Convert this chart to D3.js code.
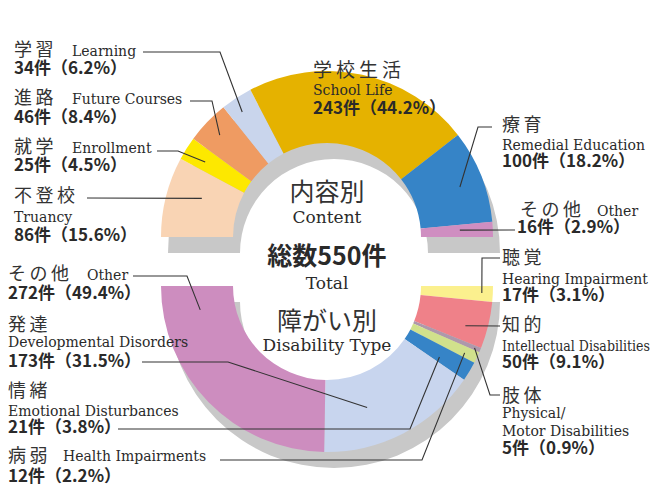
<!DOCTYPE html>
<html lang="ja">
  <head>
    <meta charset="utf-8">
    <title>相談内容・障がい別</title>
    <script src="https://d3js.org/d3.v7.min.js"></script>
    <style>
      body { margin: 0; background: #fff; }
      .jp { font-family: "Noto Sans CJK JP", sans-serif; font-weight: 400; fill: #333; }
      .en { font-family: "DejaVu Serif", serif; fill: #2a2a2a; }
      .num { font-family: "Noto Sans CJK JP", sans-serif; font-weight: 700; fill: #2a2a2a; }
    </style>
  </head>
  <body>
    <script>

      // 内容別 (top half, left to right)
      var contentNames   = ["不登校", "就学", "進路", "学習", "学校生活", "療育", "その他"];
      var contentEnglish = ["Truancy", "Enrollment", "Future Courses", "Learning", "School Life", "Remedial Education", "Other"];
      var contentCounts  = [86, 25, 46, 34, 243, 100, 16];
      var contentPct     = ["15.6", "4.5", "8.4", "6.2", "44.2", "18.2", "2.9"];

      // 障がい別 (bottom half, right to left)
      var disabilityNames   = ["聴覚", "知的", "肢体", "病弱", "情緒", "発達", "その他"];
      var disabilityEnglish = ["Hearing Impairment", "Intellectual Disabilities", "Physical/\nMotor Disabilities",
                               "Health Impairments", "Emotional Disturbances", "Developmental Disorders", "Other"];
      var disabilityCounts  = [17, 50, 5, 12, 21, 173, 272];
      var disabilityPct     = ["3.1", "9.1", "0.9", "2.2", "3.8", "31.5", "49.4"];

      var contentColors    = ["#f9d4b4", "#fde800", "#ef9b62", "#c9d5ec", "#e5b200", "#3684c7", "#cf8ec1"];
      var disabilityColors = ["#fbf08e", "#ef8189", "#ae98ab", "#d1e18c", "#3684c7", "#c8d5ee", "#cd8dbf"];

      var W = 666, H = 488;
      var cx = 327, cyTop = 237, cyBot = 286;
      var rIn = 94, rOut = 166;
      var shadow = [7, 16];
      var maxRight = 650;

      // label layout: name / english / count positions and leader
      var contentLayout = [
        {name: [14, 202], en: [14, 222], count: [14, 241], t: .61, r: 131, pts: [[87, 198]]},
        {name: [14, 153], en: [72, 153], count: [14, 171], t: .42, r: 143, pts: [[178, 151], [157, 151]]},
        {name: [14, 104], en: [72, 104], count: [14, 123], t: .48, r: 148, pts: [[212, 101], [190, 101]]},
        {name: [14, 56],  en: [72, 56],  count: [14, 74],  t: .40, r: 151, pts: [[220, 52], [143, 52]]},
        {name: [313, 77], en: [313, 95], count: [313, 114]},
        {name: [502, 131], en: [502, 150], count: [502, 167], t: .53, r: 142, pts: [[478, 127], [492, 127]]},
        {name: [520, 216], en: [597, 216], count: [517, 233], t: .43, r: 133, pts: [[515, 230]]}
      ];
      var disabilityLayout = [
        {name: [502, 264], en: [502, 284], count: [502, 301], t: .47, r: 155, pts: [[482, 258], [500, 258]]},
        {name: [502, 331], en: [502, 351], count: [502, 368], t: .64, r: 144, pts: [[500, 326]]},
        {name: [502, 402], en: [502, 418], count: [502, 454], t: .5,  r: 160, pts: [[490, 395], [500, 395]]},
        {name: [8, 462],   en: [63, 461],  count: [8, 482],   t: .6,  r: 153, pts: [[422, 460], [220, 460]]},
        {name: [8, 397],   en: [8, 416],   count: [8, 433],   t: .7,  r: 133, pts: [[410, 429], [118, 429]]},
        {name: [8, 331],   en: [8, 347],   count: [8, 367],   t: .66, r: 128, pts: [[228, 362], [142, 362]]},
        {name: [8, 280],   en: [87, 280],  count: [8, 299],   t: .88, r: 129, pts: [[187, 276], [133, 276]]}
      ];

      var svg = d3.select("body").append("svg")
                  .attr("width", W)
                  .attr("height", H);

      var arc = d3.arc().innerRadius(rIn).outerRadius(rOut);

      var topPie = d3.pie().sort(null).value(function(d) { return d; })
                     .startAngle(-Math.PI / 2).endAngle(Math.PI / 2)(contentCounts);
      var botPie = d3.pie().sort(null).value(function(d) { return d; })
                     .startAngle(Math.PI / 2).endAngle(Math.PI * 3 / 2)(disabilityCounts);

      function drawHalf(slices, colors, cy, a0, a1) {
        // grey shadow behind
        svg.append("path")
           .attr("transform", "translate(" + (cx + shadow[0]) + "," + (cy + shadow[1]) + ")")
           .attr("d", arc({startAngle: a0, endAngle: a1}))
           .style("fill", "#c8c8c8");
        svg.append("g")
           .attr("transform", "translate(" + cx + "," + cy + ")")
           .selectAll("path")
           .data(slices)
           .enter().append("path")
           .attr("d", arc)
           .style("fill", function(d, i) { return colors[i]; });
      }

      drawHalf(topPie, contentColors, cyTop, -Math.PI / 2, Math.PI / 2);
      drawHalf(botPie, disabilityColors, cyBot, Math.PI / 2, Math.PI * 3 / 2);

      var line = d3.line();

      function drawLabels(slices, names, english, counts, pct, layout, cy) {
        slices.forEach(function(s, i) {
          var L = layout[i];
          var big = (L.t === undefined);

          if (!big) {
            var a = s.startAngle + L.t * (s.endAngle - s.startAngle);
            var p0 = [cx + L.r * Math.sin(a), cy - L.r * Math.cos(a)];
            svg.append("path")
               .attr("d", line([p0].concat(L.pts)))
               .style("fill", "none")
               .style("stroke", "#333")
               .style("stroke-width", 1.1);
          }

          svg.append("text").attr("class", "jp")
             .attr("x", L.name[0]).attr("y", L.name[1])
             .style("font-size", big ? "19px" : "18px")
             .style("letter-spacing", big ? "4px" : "3.5px")
             .text(names[i]);

          english[i].split("\n").forEach(function(t, k) {
            var txt = svg.append("text").attr("class", "en")
               .attr("x", L.en[0]).attr("y", L.en[1] + k * 18)
               .style("font-size", "14px")
               .text(t);
            // squeeze a text that would run past the right margin
            var w = txt.node().getComputedTextLength();
            if (L.en[0] + w > maxRight) {
              txt.attr("textLength", maxRight - L.en[0])
                 .attr("lengthAdjust", "spacingAndGlyphs");
            }
          });

          svg.append("text").attr("class", "num")
             .attr("x", L.count[0]).attr("y", L.count[1])
             .style("font-size", "17px")
             .text(counts[i] + "件（" + pct[i] + "%）");
        });
      }

      drawLabels(topPie, contentNames, contentEnglish, contentCounts, contentPct, contentLayout, cyTop);
      drawLabels(botPie, disabilityNames, disabilityEnglish, disabilityCounts, disabilityPct, disabilityLayout, cyBot);

      // centre titles
      var total = d3.sum(contentCounts);
      var centre = [
        {text: "内容別", cls: "jp", size: 25, y: 201},
        {text: "Content", cls: "en", size: 17, y: 223},
        {text: "総数" + total + "件", cls: "num", size: 25, y: 265},
        {text: "Total", cls: "en", size: 17, y: 289},
        {text: "障がい別", cls: "jp", size: 25, y: 330},
        {text: "Disability Type", cls: "en", size: 17, y: 351}
      ];
      svg.selectAll("text.centre")
         .data(centre)
         .enter().append("text")
         .attr("class", function(d) { return d.cls + " centre"; })
         .attr("x", cx)
         .attr("y", function(d) { return d.y; })
         .attr("text-anchor", "middle")
         .style("font-size", function(d) { return d.size + "px"; })
         .text(function(d) { return d.text; });

    </script>
  </body>
</html>
